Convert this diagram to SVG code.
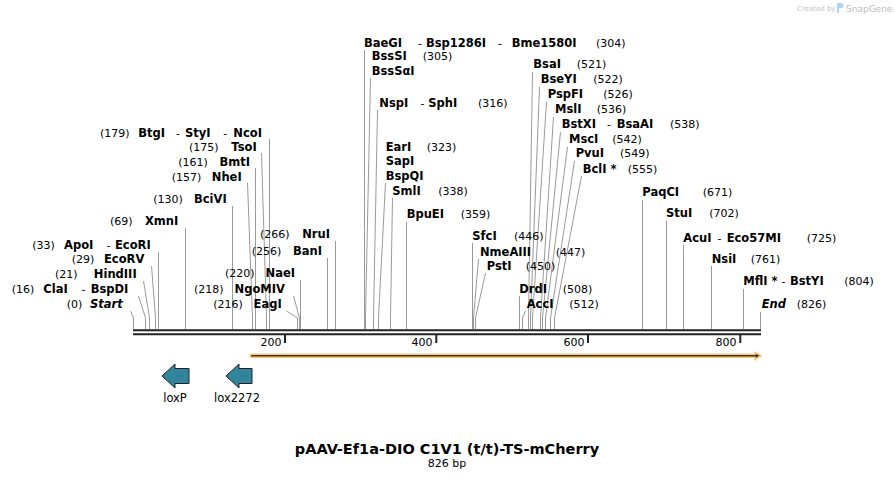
<svg xmlns="http://www.w3.org/2000/svg" width="895" height="479" viewBox="0 0 895 479">
<style>
text{font-family:"DejaVu Sans",Verdana,sans-serif;fill:#000}
.n{font-size:11.5px;font-weight:bold}
.d{font-size:11px;font-weight:normal}
.p{font-size:11px}
.i{font-style:italic}
.e{text-anchor:end}
.ln{fill:none;stroke:#9a9a9a;stroke-width:1}
.bb{stroke:#222;stroke-width:2}
.tk{stroke:#222;stroke-width:2}
.tl{font-size:11px;text-anchor:end}
.ft{fill:#31849b;stroke:#222;stroke-width:1}
.fl{font-size:11.5px;text-anchor:middle}
</style>
<rect width="895" height="479" fill="#fff"/>

<g id="watermark">
<text x="797" y="11" style="font-size:7px;fill:#c4c4c4">Created by</text>
<path d="M837 3h4a2.5 2.5 0 0 1 0 5h-2v5h-2z" fill="#a9d6f2"/>
<text x="846" y="11.5" style="font-size:9px;fill:#bdbdbd">SnapGene</text>
</g>

<g id="connectors">
<polyline class="ln" points="130.5,311 133.5,318 133.5,329"/>
<polyline class="ln" points="138.5,296 145.5,318 145.5,329"/>
<polyline class="ln" points="143.5,281 149.5,318 149.5,329"/>
<polyline class="ln" points="151.5,266 155.5,318 155.5,329"/>
<polyline class="ln" points="158.5,252 158.5,329"/>
<polyline class="ln" points="185.5,228 185.5,329"/>
<polyline class="ln" points="232.5,206 232.5,329"/>
<polyline class="ln" points="247.5,183 252.5,318 252.5,329"/>
<polyline class="ln" points="255.5,168 255.5,329"/>
<polyline class="ln" points="261.5,153 266.5,318 266.5,329"/>
<polyline class="ln" points="269.5,139 269.5,329"/>
<polyline class="ln" points="286.5,311 297.5,318 297.5,329"/>
<polyline class="ln" points="293.5,296 299.5,318 299.5,329"/>
<polyline class="ln" points="300.5,280 300.5,329"/>
<polyline class="ln" points="327.5,258 327.5,329"/>
<polyline class="ln" points="335.5,241 335.5,329"/>
<polyline class="ln" points="364.5,50 364.5,329"/>
<polyline class="ln" points="370.5,78 365.5,318 365.5,329"/>
<polyline class="ln" points="377.5,110 373.5,318 373.5,329"/>
<polyline class="ln" points="385.5,183 378.5,318 378.5,329"/>
<polyline class="ln" points="392.5,198 390.5,318 390.5,329"/>
<polyline class="ln" points="406.5,222 406.5,329"/>
<polyline class="ln" points="472.5,243 472.5,329"/>
<polyline class="ln" points="478.5,259 473.5,318 473.5,329"/>
<polyline class="ln" points="485.5,273 475.5,318 475.5,329"/>
<polyline class="ln" points="519.5,296 519.5,329"/>
<polyline class="ln" points="525.5,311 522.5,318 522.5,329"/>
<polyline class="ln" points="532.5,72 528.5,318 528.5,329"/>
<polyline class="ln" points="539.5,87 530.5,318 530.5,329"/>
<polyline class="ln" points="546.5,102 532.5,318 532.5,329"/>
<polyline class="ln" points="553.5,117 540.5,318 540.5,329"/>
<polyline class="ln" points="560.5,132 542.5,318 542.5,329"/>
<polyline class="ln" points="567.5,147 545.5,318 545.5,329"/>
<polyline class="ln" points="574.5,161 550.5,318 550.5,329"/>
<polyline class="ln" points="581.5,176 554.5,318 554.5,329"/>
<polyline class="ln" points="642.5,200 642.5,329"/>
<polyline class="ln" points="666.5,221 666.5,329"/>
<polyline class="ln" points="683.5,245 683.5,329"/>
<polyline class="ln" points="711.5,266 711.5,329"/>
<polyline class="ln" points="743.5,289 743.5,329"/>
<polyline class="ln" points="760.5,312 760.5,329"/>
</g>

<g id="backbone">
<line class="bb" x1="133" y1="330.3" x2="761" y2="330.3"/>
<line class="bb" x1="133" y1="334.3" x2="761" y2="334.3"/>
</g>

<g id="ruler">
<line class="tk" x1="285" y1="335" x2="285" y2="343"/>
<line class="tk" x1="436.3" y1="335" x2="436.3" y2="343"/>
<line class="tk" x1="588" y1="335" x2="588" y2="343"/>
<line class="tk" x1="740.3" y1="335" x2="740.3" y2="343"/>
<text class="tl" x="281.5" y="345.5">200</text>
<text class="tl" x="432.5" y="345.5">400</text>
<text class="tl" x="584.5" y="345.5">600</text>
<text class="tl" x="736.5" y="345.5">800</text>
</g>

<g id="orf">
<path d="M250.5 354.3H755V352.3L761 355.8L755 359.3V357.3H250.5Z" fill="#333" stroke="#fbc870" stroke-width="1.6" stroke-linejoin="miter"/>
</g>

<g id="loxP">
<polygon class="ft" points="162,376 175,364 175,368.5 189,368.5 189,383.5 175,383.5 175,388"/>
<text class="fl" x="175" y="401.5">loxP</text>
</g>
<g id="lox2272">
<polygon class="ft" points="226,376 239,364 239,368.5 252,368.5 252,383.5 239,383.5 239,388"/>
<text class="fl" x="237" y="401.5">lox2272</text>
</g>

<g id="title">
<text x="447" y="454" style="font-size:14.5px;font-weight:bold;text-anchor:middle">pAAV-Ef1a-DIO C1V1 (t/t)-TS-mCherry</text>
<text x="447" y="467" style="font-size:11px;text-anchor:middle">826 bp</text>
</g>

<g id="lbl-Start"><text class="p" x="66.7" y="308.3">(0)</text><text class="n i e" x="122.7" y="308.3">Start</text></g>
<g id="lbl-ClaI"><text class="p" x="11.7" y="293.3">(16)</text><text class="n" y="293.3"><tspan x="43.3">ClaI</tspan><tspan class="d" x="81.5">-</tspan><tspan x="90.7">BspDI</tspan></text></g>
<g id="lbl-HindIII"><text class="p" x="55" y="278.3">(21)</text><text class="n e" x="136.7" y="278.3">HindIII</text></g>
<g id="lbl-EcoRV"><text class="p" x="71.7" y="263.3">(29)</text><text class="n e" x="144.3" y="263.3">EcoRV</text></g>
<g id="lbl-ApoI"><text class="p" x="32.3" y="249">(33)</text><text class="n" y="249"><tspan x="64">ApoI</tspan><tspan class="d" x="106.5">-</tspan><tspan x="115">EcoRI</tspan></text></g>
<g id="lbl-XmnI"><text class="p" x="110" y="225">(69)</text><text class="n e" x="178.3" y="225">XmnI</text></g>
<g id="lbl-BciVI"><text class="p" x="153.3" y="203.3">(130)</text><text class="n e" x="226.7" y="203.3">BciVI</text></g>
<g id="lbl-NheI"><text class="p" x="171.7" y="180.7">(157)</text><text class="n e" x="241.7" y="180.7">NheI</text></g>
<g id="lbl-BmtI"><text class="p" x="178.3" y="165.7">(161)</text><text class="n e" x="250" y="165.7">BmtI</text></g>
<g id="lbl-TsoI"><text class="p" x="189" y="150.7">(175)</text><text class="n e" x="256.7" y="150.7">TsoI</text></g>
<g id="lbl-BtgI"><text class="p" x="100" y="136.7">(179)</text><text class="n" y="136.7"><tspan x="138.3">BtgI</tspan><tspan class="d" x="176">-</tspan><tspan x="185">StyI</tspan><tspan class="d" x="223.3">-</tspan><tspan x="233.3">NcoI</tspan></text></g>
<g id="lbl-EagI"><text class="p" x="213.3" y="308.3">(216)</text><text class="n e" x="281.7" y="308.3">EagI</text></g>
<g id="lbl-NgoMIV"><text class="p" x="194" y="293.3">(218)</text><text class="n e" x="285" y="293.3">NgoMIV</text></g>
<g id="lbl-NaeI"><text class="p" x="225" y="277.3">(220)</text><text class="n e" x="295" y="277.3">NaeI</text></g>
<g id="lbl-BanI"><text class="p" x="251.7" y="255">(256)</text><text class="n e" x="322" y="255">BanI</text></g>
<g id="lbl-NruI"><text class="p" x="260" y="238.3">(266)</text><text class="n e" x="330" y="238.3">NruI</text></g>

<g id="lbl-BaeGI"><text class="n" y="46.7"><tspan x="364">BaeGI</tspan><tspan class="d" x="418">-</tspan><tspan x="426">Bsp1286I</tspan><tspan class="d" x="498">-</tspan><tspan x="511.7">Bme1580I</tspan></text><text class="p" x="596" y="46.7">(304)</text></g>
<g id="lbl-BssSI"><text class="n" x="371.7" y="60">BssSI</text><text class="p" x="422.7" y="60">(305)</text><text class="n" x="371.7" y="75">BssSαI</text></g>
<g id="lbl-NspI"><text class="n" y="106.7"><tspan x="379.3">NspI</tspan><tspan class="d" x="420.5">-</tspan><tspan x="428.3">SphI</tspan></text><text class="p" x="478" y="106.7">(316)</text></g>
<g id="lbl-EarI"><text class="n" x="385.7" y="150.7">EarI</text><text class="p" x="426.7" y="150.7">(323)</text><text class="n" x="385.7" y="165">SapI</text><text class="n" x="385.7" y="180">BspQI</text></g>
<g id="lbl-SmlI"><text class="n" x="392.3" y="195">SmlI</text><text class="p" x="438.3" y="195">(338)</text></g>
<g id="lbl-BpuEI"><text class="n" x="406.7" y="218.3">BpuEI</text><text class="p" x="460.7" y="218.3">(359)</text></g>
<g id="lbl-SfcI"><text class="n" x="472.3" y="240">SfcI</text><text class="p" x="514" y="240">(446)</text></g>
<g id="lbl-NmeAIII"><text class="n" x="480" y="256">NmeAIII</text><text class="p" x="555.7" y="256">(447)</text></g>
<g id="lbl-PstI"><text class="n" x="486.7" y="270">PstI</text><text class="p" x="525.7" y="270">(450)</text></g>
<g id="lbl-DrdI"><text class="n" x="519.3" y="293.3">DrdI</text><text class="p" x="562.7" y="293.3">(508)</text></g>
<g id="lbl-AccI"><text class="n" x="526.7" y="308.3">AccI</text><text class="p" x="569.3" y="308.3">(512)</text></g>
<g id="lbl-BsaI"><text class="n" x="533.3" y="68.3">BsaI</text><text class="p" x="576.7" y="68.3">(521)</text></g>
<g id="lbl-BseYI"><text class="n" x="540.7" y="83.3">BseYI</text><text class="p" x="593.3" y="83.3">(522)</text></g>
<g id="lbl-PspFI"><text class="n" x="547.7" y="98.3">PspFI</text><text class="p" x="603.3" y="98.3">(526)</text></g>
<g id="lbl-MslI"><text class="n" x="555" y="113.3">MslI</text><text class="p" x="596.7" y="113.3">(536)</text></g>
<g id="lbl-BstXI"><text class="n" y="128.3"><tspan x="561.7">BstXI</tspan><tspan class="d" x="607">-</tspan><tspan x="616.7">BsaAI</tspan></text><text class="p" x="670" y="128.3">(538)</text></g>
<g id="lbl-MscI"><text class="n" x="569" y="143.3">MscI</text><text class="p" x="612.3" y="143.3">(542)</text></g>
<g id="lbl-PvuI"><text class="n" x="575.7" y="157.3">PvuI</text><text class="p" x="620" y="157.3">(549)</text></g>
<g id="lbl-BclI"><text class="n" x="582.7" y="172.7">BclI *</text><text class="p" x="627.7" y="172.7">(555)</text></g>
<g id="lbl-PaqCI"><text class="n" x="642.3" y="196">PaqCI</text><text class="p" x="702.7" y="196">(671)</text></g>
<g id="lbl-StuI"><text class="n" x="666" y="217.3">StuI</text><text class="p" x="709.3" y="217.3">(702)</text></g>
<g id="lbl-AcuI"><text class="n" y="241.7"><tspan x="683.3">AcuI</tspan><tspan class="d" x="717.5">-</tspan><tspan x="726.7">Eco57MI</tspan></text><text class="p" x="806.7" y="241.7">(725)</text></g>
<g id="lbl-NsiI"><text class="n" x="711.7" y="262.7">NsiI</text><text class="p" x="750.7" y="262.7">(761)</text></g>
<g id="lbl-MflI"><text class="n" y="285"><tspan x="743.3">MflI *</tspan><tspan class="d" x="781.5">-</tspan><tspan x="790">BstYI</tspan></text><text class="p" x="844.3" y="285">(804)</text></g>
<g id="lbl-End"><text class="n i" x="761.7" y="308.3">End</text><text class="p" x="796.7" y="308.3">(826)</text></g>
</svg>
